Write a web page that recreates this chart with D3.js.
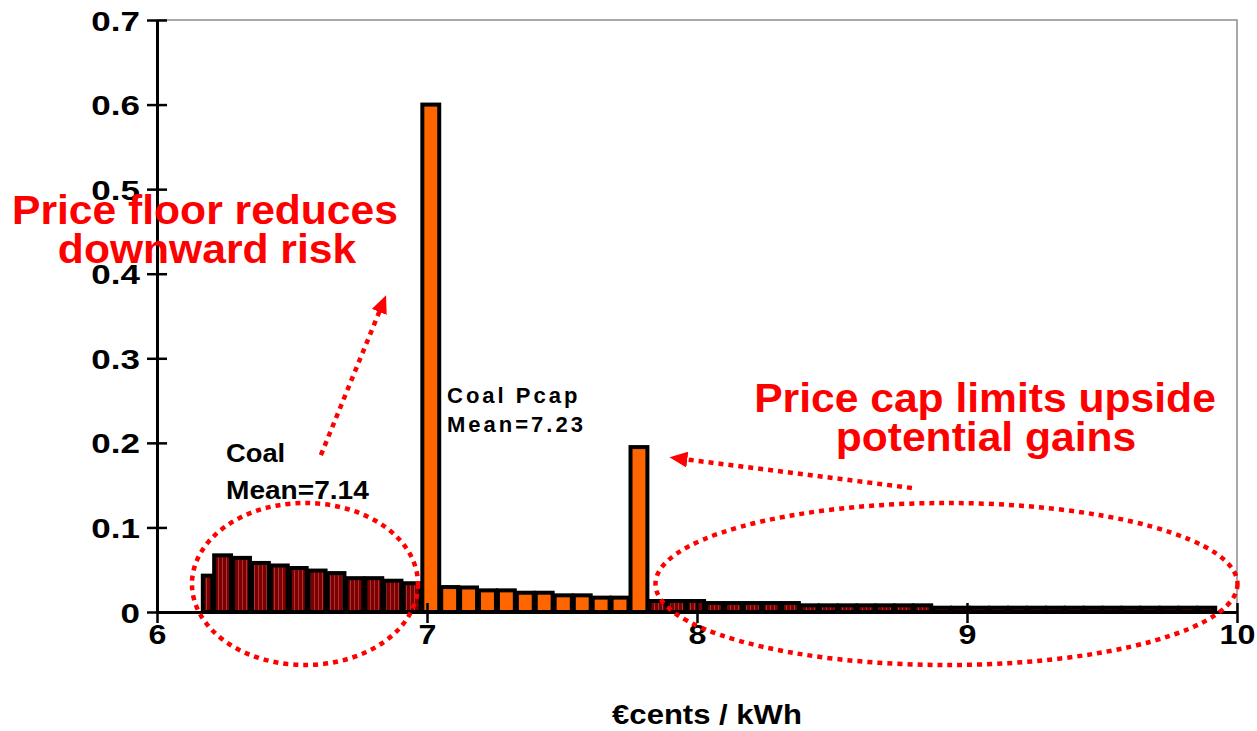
<!DOCTYPE html>
<html>
<head>
<meta charset="utf-8">
<script src="https://cdn.jsdelivr.net/npm/d3@7"></script>
<style>
  body { margin: 0; background: #fff; }
  svg { display: block; }
  text { font-family: "Liberation Sans", Arial, sans-serif; font-weight: bold; }
</style>
</head>
<body>
<svg id="chart" width="1257" height="731"></svg>
<script>
// Axis ticks
const xTicks = [6, 7, 8, 9, 10];
const yTicks = [0, 0.1, 0.2, 0.3, 0.4, 0.5, 0.6, 0.7];

// Coal price distribution below the floor (bin edges, probabilities)
const coalLowEdges = [6.166, 6.208, 6.278, 6.348, 6.418, 6.488, 6.558, 6.628, 6.698, 6.768, 6.838, 6.909, 6.979];
const coalLowValues = [0.043, 0.067, 0.064, 0.058, 0.055, 0.052, 0.049, 0.046, 0.040, 0.040, 0.037, 0.034];

// Coal with price floor and cap (Pcap)
const pcapEdges = [6.979, 7.049, 7.119, 7.189, 7.259, 7.329, 7.399, 7.469, 7.540, 7.610, 7.680, 7.750, 7.820];
const pcapValues = [0.600, 0.0295, 0.029, 0.0256, 0.0256, 0.0228, 0.0228, 0.0197, 0.0197, 0.017, 0.017, 0.195];

// Coal price distribution above the cap
const coalHighEdges = [7.820, 7.890, 7.960, 8.030, 8.100, 8.170, 8.240, 8.311, 8.381, 8.451, 8.521,
  8.591, 8.661, 8.731, 8.801, 8.871, 8.941, 9.012, 9.082, 9.152, 9.222, 9.292, 9.362, 9.432,
  9.502, 9.572, 9.642, 9.713, 9.783, 9.853, 9.923];
const coalHighValues = [0.013, 0.013, 0.013, 0.0106, 0.0106, 0.0106, 0.0106, 0.0106,
  0.0079, 0.0079, 0.0079, 0.0079, 0.0079, 0.0079, 0.0079,
  0.0051, 0.0051, 0.0051, 0.0051, 0.0051, 0.0051, 0.0051, 0.0051, 0.0051, 0.0051,
  0.0051, 0.0051, 0.0051, 0.0051, 0.0051];

const coalMean = 7.14;
const pcapMean = 7.23;

const svg = d3.select("#chart");
const x = d3.scaleLinear().domain([6, 10]).range([157, 1237]);
const y = d3.scaleLinear().domain([0, 0.7]).range([612, 20]);

const defs = svg.append("defs");
const stripe = defs.append("pattern")
  .attr("id", "coalStripe").attr("patternUnits", "userSpaceOnUse")
  .attr("width", 4).attr("height", 10);
stripe.append("rect").attr("width", 4).attr("height", 10).attr("fill", "#7d0000");
stripe.append("rect").attr("x", 2).attr("width", 1).attr("height", 10).attr("fill", "#a83434");

defs.append("marker")
  .attr("id", "arrowHead").attr("markerUnits", "userSpaceOnUse")
  .attr("markerWidth", 18).attr("markerHeight", 16)
  .attr("refX", 12).attr("refY", 8).attr("orient", "auto")
  .append("path").attr("d", "M0,0 L18,8 L0,16 Z").attr("fill", "#ff0000");

// Stretched bold lettering
function stretch(sel, k) {
  sel.each(function () {
    const w = this.getComputedTextLength();
    d3.select(this).attr("textLength", w * k).attr("lengthAdjust", "spacingAndGlyphs");
  });
}

// Plot frame (top and right edges)
svg.append("path")
  .attr("d", `M${x(6)},${y(0.7)} H${x(10)} V${y(0)}`)
  .attr("fill", "none").attr("stroke", "#8c8c8c").attr("stroke-width", 1.5);

function toBins(edges, values) {
  return values.map((v, i) => ({ lo: edges[i], hi: edges[i + 1], v }));
}

function drawBars(bins, fill) {
  svg.append("g").selectAll("rect").data(bins).join("rect")
    .attr("x", d => x(d.lo) + 1)
    .attr("width", d => x(d.hi) - x(d.lo) - 2)
    .attr("y", d => y(d.v))
    .attr("height", d => y(0) - y(d.v))
    .attr("fill", fill)
    .attr("stroke", "#000")
    .attr("stroke-width", 4);
}

drawBars(toBins(coalLowEdges, coalLowValues), "url(#coalStripe)");
drawBars(toBins(coalHighEdges, coalHighValues), "url(#coalStripe)");
drawBars(toBins(pcapEdges, pcapValues), "#ff6600");

// Axes
const xAxis = svg.append("g").attr("transform", `translate(0,${y(0)})`)
  .call(d3.axisBottom(x).tickValues(xTicks).tickSize(10).tickSizeOuter(0).tickFormat(d3.format("d")));
xAxis.select(".domain").attr("stroke", "#000").attr("stroke-width", 3);
xAxis.selectAll(".tick line").attr("y1", -9).attr("y2", 11).attr("stroke", "#000").attr("stroke-width", 2.5);
xAxis.selectAll(".tick text").attr("y", 32).attr("dy", 0).attr("font-size", 28).attr("fill", "#000")
  .call(stretch, 1.15);

const yAxis = svg.append("g").attr("transform", `translate(${x(6)},0)`)
  .call(d3.axisLeft(y).tickValues(yTicks).tickSize(10).tickSizeOuter(0)
    .tickFormat(d => d === 0 ? "0" : d3.format(".1f")(d)));
yAxis.select(".domain").attr("stroke", "#000").attr("stroke-width", 3);
yAxis.selectAll(".tick line").attr("x1", -10).attr("x2", 10).attr("stroke", "#000").attr("stroke-width", 2.5);
yAxis.selectAll(".tick text").attr("x", -17).attr("dy", "0.36em").attr("font-size", 28).attr("fill", "#000")
  .call(stretch, 1.25);

svg.append("text").attr("x", 707).attr("y", 724).attr("text-anchor", "middle")
  .attr("font-size", 27).attr("fill", "#000").text("€cents / kWh").call(stretch, 1.15);

// Mean labels
svg.append("text").attr("x", 226).attr("y", 462).attr("font-size", 26).text("Coal").call(stretch, 1.05);
svg.append("text").attr("x", 226).attr("y", 499).attr("font-size", 26)
  .text("Mean=" + coalMean.toFixed(2)).call(stretch, 1.08);
svg.append("text").attr("x", 447).attr("y", 403).attr("font-size", 22).attr("letter-spacing", 3)
  .text("Coal Pcap");
svg.append("text").attr("x", 447).attr("y", 432).attr("font-size", 22).attr("letter-spacing", 3)
  .text("Mean=" + pcapMean.toFixed(2));

// Red annotations
const red = "#ff0000";
[["Price floor reduces", 205, 224], ["downward risk", 207, 263],
 ["Price cap limits upside", 985, 412], ["potential gains", 986, 451]].forEach(([t, cx, by]) => {
  svg.append("text").attr("x", cx).attr("y", by).attr("text-anchor", "middle")
    .attr("font-size", 40).attr("fill", red).text(t).call(stretch, 1.065);
});

const dots = g => g.attr("fill", "none").attr("stroke", red).attr("stroke-width", 4.5).attr("stroke-dasharray", "5 5");

svg.append("ellipse").attr("cx", x(6.548)).attr("cy", y(0.0331)).attr("rx", 113).attr("ry", 81).call(dots);
svg.append("ellipse").attr("cx", x(8.924)).attr("cy", y(0.0331)).attr("rx", 291).attr("ry", 81).call(dots);

svg.append("line").attr("x1", x(6.607)).attr("y1", y(0.1856)).attr("x2", x(6.840)).attr("y2", y(0.368))
  .call(dots).attr("marker-end", "url(#arrowHead)");
svg.append("line").attr("x1", x(8.796)).attr("y1", y(0.1466)).attr("x2", x(7.920)).attr("y2", y(0.182))
  .call(dots).attr("marker-end", "url(#arrowHead)");
</script>
</body>
</html>
